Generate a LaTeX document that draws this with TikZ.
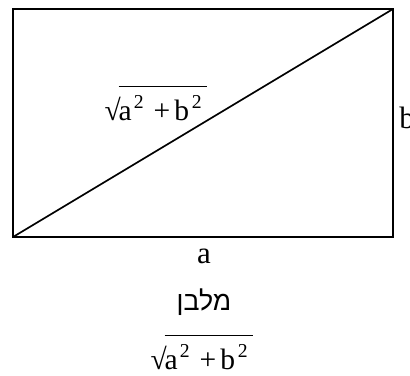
\documentclass[tikz,border=0pt]{standalone}
\usepackage{fontspec}
\setmainfont{Liberation Serif}
\newfontfamily\hebfont[Script=Hebrew]{Liberation Sans}
\TeXXeTstate=1
\usetikzlibrary{positioning}

% small raised 2
\newcommand{\supr}{\raisebox{8.5pt}{\fontsize{14}{14}\selectfont 2}}
% root with the bar set apart
\newcommand{\hyp}{√\kern-1.5pt\vbox{\hrule height 0.7pt\kern6pt
  \hbox{a\kern1.5pt\supr\kern7pt+\kern3pt b\kern2pt\supr\kern4pt}}}

\begin{document}
\begin{tikzpicture}[>=stealth, x=0.025cm, y=-0.025cm,
  side/.style={line width=1.4pt},
  lbl/.style={inner sep=0pt, font=\fontsize{22}{26}\selectfont},
  root/.style={inner sep=0pt, font=\fontsize{21}{25}\selectfont}]
  \useasboundingbox (0,0) rectangle (410,376);
  % rectangle and diagonal
  \coordinate (bl) at (13,237);
  \coordinate (tr) at (393,9);
  \draw[side] (bl) rectangle (tr);
  \draw[line width=1.2pt] (bl) -- (tr);
  % side labels
  \node[root, anchor=base] (diag) at (156,120) {\hyp};
  \node[lbl, anchor=base west] (sb) at (399,128) {b};
  \node[lbl, anchor=base] (sa) at (204,263) {a};
  % caption
  \node[inner sep=0pt, anchor=base, font=\fontsize{19}{22}\selectfont\hebfont]
    (name) at (204,310) {\beginR מלבן\endR};
  \node[root, anchor=base] (res) at (202,369) {\hyp};
\end{tikzpicture}
\end{document}
